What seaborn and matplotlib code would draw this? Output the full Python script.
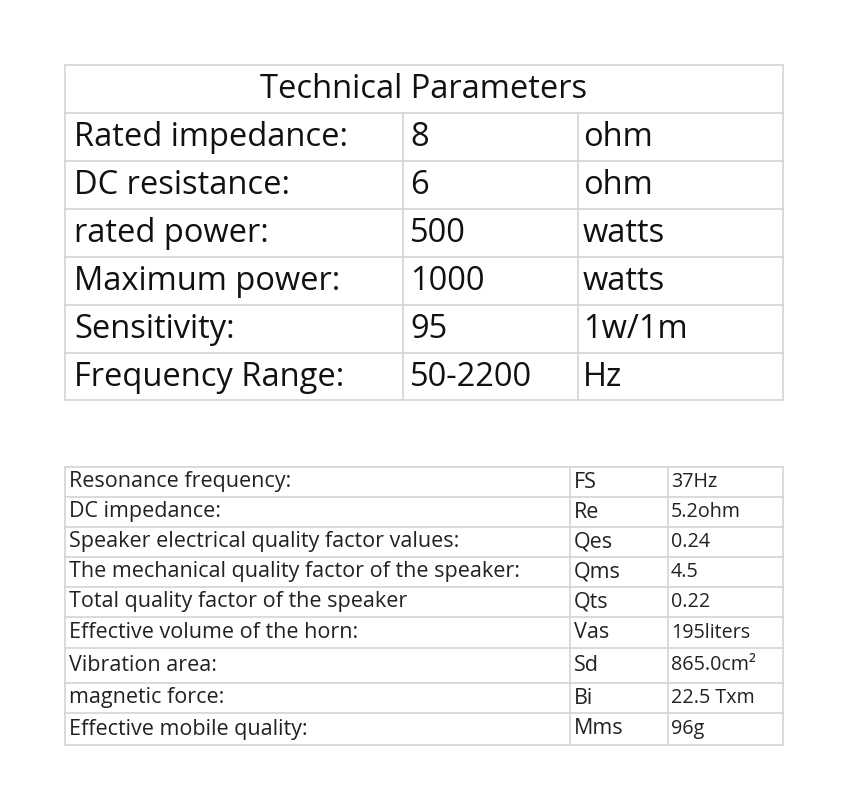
import matplotlib
matplotlib.use("Agg")
import matplotlib.pyplot as plt
import seaborn as sns

sns.set_theme(style="white")
plt.rcParams['font.family'] = ['Open Sans', 'DejaVu Sans']

title = "Technical Parameters"
t1_names = ["Rated impedance:", "DC resistance:", "rated power:", "Maximum power:", "Sensitivity:", "Frequency Range:"]
t1_values = ["8", "6", "500", "1000", "95", "50-2200"]
t1_units = ["ohm", "ohm", "watts", "watts", "1w/1m", "Hz"]

t2_names = ["Resonance frequency:", "DC impedance:", "Speaker electrical quality factor values:",
            "The mechanical quality factor of the speaker:", "Total quality factor of the speaker",
            "Effective volume of the horn:", "Vibration area:", "magnetic force:", "Effective mobile quality:"]
t2_symbols = ["FS", "Re", "Qes", "Qms", "Qts", "Vas", "Sd", "Bi", "Mms"]
t2_values = ["37Hz", "5.2ohm", "0.24", "4.5", "0.22", "195liters", "865.0cm²", "22.5 Txm", "96g"]

fig = plt.figure(figsize=(8.5, 8.11), dpi=100)
ax = fig.add_axes([0, 0, 1, 1])
ax.set_xlim(0, 850)
ax.set_ylim(811, 0)
ax.axis("off")
lc = "#d4d4d4"

# Table 1
x0, x1, x2, x3 = 65, 403, 578, 783
ys = [65, 113, 161, 209, 257, 305, 353, 400]
for y in ys:
    ax.plot([x0, x3], [y, y], color=lc, lw=1.2)
ax.plot([x0, x0], [ys[0], ys[-1]], color=lc, lw=1.2)
ax.plot([x3, x3], [ys[0], ys[-1]], color=lc, lw=1.2)
for x in (x1, x2):
    ax.plot([x, x], [ys[1], ys[-1]], color=lc, lw=1.2)
fs1 = 23.5
ax.text((x0 + x3) / 2, (ys[0] + ys[1]) / 2 + 1, title, ha="center", va="center", fontsize=fs1, color="#111")
for i, (n, v, u) in enumerate(zip(t1_names, t1_values, t1_units)):
    yc = (ys[i + 1] + ys[i + 2]) / 2 + 1
    ax.text(x0 + 9, yc, n, ha="left", va="center", fontsize=fs1, color="#111")
    ax.text(x1 + 7, yc, v, ha="left", va="center", fontsize=fs1, color="#111")
    ax.text(x2 + 5, yc, u, ha="left", va="center", fontsize=fs1, color="#111")

# Table 2
c0, c1, c2, c3 = 65, 570, 668, 783
ry = [467, 497, 527, 557, 587, 617, 648, 683, 713, 745]
for y in ry:
    ax.plot([c0, c3], [y, y], color=lc, lw=1.2)
for x in (c0, c1, c2, c3):
    ax.plot([x, x], [ry[0], ry[-1]], color=lc, lw=1.2)
fs2 = 15.5
for i, (n, s, v) in enumerate(zip(t2_names, t2_symbols, t2_values)):
    yc = (ry[i] + ry[i + 1]) / 2
    ax.text(c0 + 4, yc, n, ha="left", va="center", fontsize=fs2, color="#222")
    ax.text(c1 + 4, yc, s, ha="left", va="center", fontsize=fs2, color="#222")
    ax.text(c2 + 3, yc, v, ha="left", va="center", fontsize=fs2 * 0.92, color="#222")

fig.savefig("out.png", dpi=100)
